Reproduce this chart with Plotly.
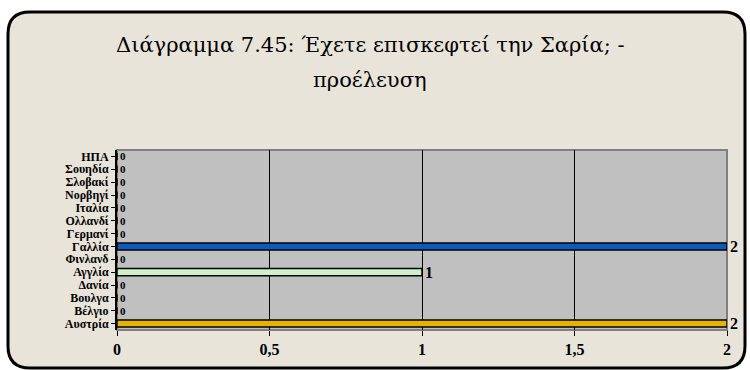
import plotly.graph_objects as go

# Country of origin of visitors (truncated labels as in the source sheet)
countries = ["Αυστρία", "Βέλγιο", "Βουλγα", "Δανία", "Αγγλία", "Φινλανδ", "Γαλλία",
             "Γερμανί", "Ολλανδί", "Ιταλία", "Νορβηγί", "Σλοβακί", "Σουηδία", "ΗΠΑ"]
visits = [2, 0, 0, 0, 1, 0, 2, 0, 0, 0, 0, 0, 0, 0]
bar_colors = ["#E6B400", "#7F7F7F", "#7F7F7F", "#7F7F7F", "#CCF2CC", "#7F7F7F", "#0A5CB8",
              "#7F7F7F", "#7F7F7F", "#7F7F7F", "#7F7F7F", "#7F7F7F", "#7F7F7F", "#7F7F7F"]
x_ticks = [0, 0.5, 1, 1.5, 2]
x_tick_text = ["0", "0,5", "1", "1,5", "2"]
title_lines = ["Διάγραμμα 7.45: Έχετε επισκεφτεί την Σαρία; -", "προέλευση"]

W, H = 750, 370
ML, MR, MT, MB = 117, 23, 150, 40
PW, PH = W - ML - MR, H - MT - MB


def px_x(p):
    return (p - ML) / PW


def px_y(p):
    return (H - MB - p) / PH


serif = "Liberation Serif"

# zero labels sit on tightly packed rows, so they get a smaller size
label_sizes = [16 if v > 0 else 11 for v in visits]

fig = go.Figure(go.Bar(
    x=visits, y=countries, orientation="h",
    marker=dict(color=bar_colors, line=dict(color="black", width=1.5)),
    width=0.55,
    text=[str(v) for v in visits], textposition="outside",
    constraintext="none",
    textfont=dict(family=serif, size=label_sizes, color="black", weight="bold"),
    cliponaxis=False,
))

# rounded frame around the whole chart
x0, x1, y0, y1, r = px_x(8), px_x(745), px_y(368), px_y(12), 22
rx, ry = r / PW, r / PH
frame = (f"M {x0 + rx},{y1} L {x1 - rx},{y1} Q {x1},{y1} {x1},{y1 - ry} "
         f"L {x1},{y0 + ry} Q {x1},{y0} {x1 - rx},{y0} L {x0 + rx},{y0} "
         f"Q {x0},{y0} {x0},{y0 + ry} L {x0},{y1 - ry} Q {x0},{y1} {x0 + rx},{y1} Z")

title_annots = [
    dict(text=line, x=px_x(370), y=px_y(py), xref="paper", yref="paper",
         xanchor="center", yanchor="middle", showarrow=False,
         font=dict(family="DejaVu Serif", size=21, color="black"))
    for line, py in zip(title_lines, [45, 80])
]

fig.update_layout(
    width=W, height=H,
    margin=dict(l=ML, r=MR, t=MT, b=MB),
    paper_bgcolor="white",
    plot_bgcolor="rgba(0,0,0,0)",
    separators=", ",
    showlegend=False,
    annotations=title_annots,
    shapes=[
        dict(type="path", path=frame, xref="paper", yref="paper",
             fillcolor="#E9E4DA", line=dict(color="black", width=3), layer="below"),
        dict(type="rect", x0=0, x1=1, y0=0, y1=1, xref="paper", yref="paper",
             fillcolor="#C0C0C0", line=dict(color="#808080", width=2), layer="below"),
    ],
    xaxis=dict(
        range=[0, 2], tickvals=x_ticks, ticktext=x_tick_text,
        showgrid=True, gridcolor="black", gridwidth=1, zeroline=False,
        showline=False, ticks="outside", ticklen=5, tickcolor="black",
        tickfont=dict(family=serif, size=16, color="black", weight="bold"),
    ),
    yaxis=dict(
        tickmode="array", tickvals=countries, ticktext=countries,
        showgrid=False, zeroline=False, showline=True, linecolor="black", linewidth=2,
        ticks="outside", ticklen=4, tickcolor="black",
        tickfont=dict(family=serif, size=12, color="black", weight="bold"),
    ),
)

fig.write_html("out.html")
